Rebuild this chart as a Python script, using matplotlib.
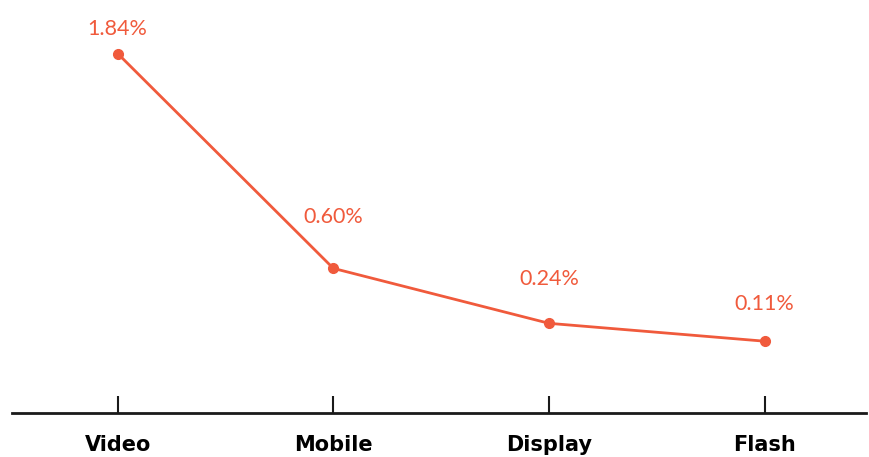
import numpy as np
import matplotlib
matplotlib.use("Agg")
import matplotlib.pyplot as plt

channels = ["Video", "Mobile", "Display", "Flash"]
rates = [1.84, 0.60, 0.24, 0.11]
rate_labels = ["1.84%", "0.60%", "0.24%", "0.11%"]
# how far above each point its label sits (points)
label_lift = [18, 37, 32, 27]

orange = "#f05a3c"

def fwd(v):
    v = np.asarray(v, dtype=float)
    return np.sign(v) * np.abs(v) ** 1.12

def inv(v):
    v = np.asarray(v, dtype=float)
    return np.sign(v) * np.abs(v) ** (1 / 1.12)

fig = plt.figure(figsize=(8.69, 4.57), dpi=100)
ax = fig.add_axes([12 / 869, 44 / 457, 854 / 869, 413 / 457])

x = np.arange(len(channels))
ax.plot(x, rates, color=orange, lw=2, marker="o", ms=7, zorder=3, clip_on=False)

for xi, r, lab, dy in zip(x, rates, rate_labels, label_lift):
    ax.annotate(lab, (xi, r), xytext=(0, dy), textcoords="offset points",
                ha="center", va="center", color=orange, fontsize=15.5, family="Lato")

ax.set_yscale("function", functions=(fwd, inv))
ax.set_ylim(fwd(0) - 0.43, 2.13)
ax.set_xlim(-0.49, 3.47)

for s in ["left", "right", "top"]:
    ax.spines[s].set_visible(False)
ax.spines["bottom"].set_linewidth(2)
ax.spines["bottom"].set_color("#1a1a1a")
ax.set_yticks([])
ax.set_xticks(x)
ax.set_xticklabels(channels, fontsize=15, fontweight="bold", family="DejaVu Sans")
ax.tick_params(axis="x", direction="in", length=12, width=1.5, color="#1a1a1a", pad=16)

fig.savefig("out.png", dpi=100)
